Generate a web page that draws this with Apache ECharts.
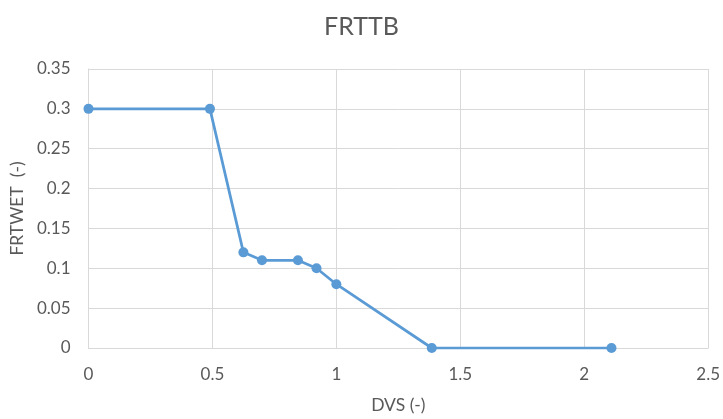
<!DOCTYPE html>
<html>
<head>
<meta charset="utf-8">
<script src="https://cdn.jsdelivr.net/npm/echarts@6/dist/echarts.min.js"></script>
<style>
  html, body { margin: 0; padding: 0; background: #ffffff; }
  #chart { width: 723px; height: 419px; }
</style>
</head>
<body>
<div id="chart"></div>
<script>
// FRTTB table: root dry-matter fraction against development stage
const dvs = [0, 0.49, 0.625, 0.70, 0.845, 0.92, 1.0, 1.385, 2.11];
const frtwet = [0.30, 0.30, 0.12, 0.11, 0.11, 0.10, 0.08, 0.0, 0.0];

const chart = echarts.init(document.getElementById('chart'), null, { renderer: 'canvas' });
const textColor = '#595959';
const gridColor = '#d9d9d9';
const font = 'Lato, "Open Sans", sans-serif';

chart.setOption({
  animation: false,
  title: {
    text: 'FRTTB',
    left: 'center',
    top: 9,
    textStyle: { color: textColor, fontSize: 25, fontWeight: 'normal', fontFamily: font }
  },
  grid: { left: 88, right: 14, top: 69, bottom: 65 },
  xAxis: {
    type: 'value',
    min: 0, max: 2.5, interval: 0.5,
    name: 'DVS (-)',
    nameLocation: 'middle',
    nameGap: 48,
    nameTextStyle: { color: textColor, fontSize: 17.5, fontFamily: font },
    axisLine: { show: true, lineStyle: { color: gridColor, width: 1 } },
    axisTick: { show: false },
    splitLine: { show: true, lineStyle: { color: gridColor, width: 1 } },
    axisLabel: { color: textColor, fontSize: 17, fontFamily: font, margin: 18 }
  },
  yAxis: {
    type: 'value',
    min: 0, max: 0.35, interval: 0.05,
    name: 'FRTWET  (-)',
    nameLocation: 'middle',
    nameGap: 61,
    nameTextStyle: { color: textColor, fontSize: 17.5, fontFamily: font },
    axisLine: { show: true, lineStyle: { color: gridColor, width: 1 } },
    axisTick: { show: false },
    splitLine: { show: true, lineStyle: { color: gridColor, width: 1 } },
    axisLabel: { color: textColor, fontSize: 17, fontFamily: font, margin: 18 }
  },
  series: [{
    type: 'line',
    data: dvs.map((x, i) => [x, frtwet[i]]),
    symbol: 'circle',
    symbolSize: 10,
    lineStyle: { color: '#5b9bd5', width: 2.75 },
    itemStyle: { color: '#5b9bd5' }
  }]
});
</script>
</body>
</html>
